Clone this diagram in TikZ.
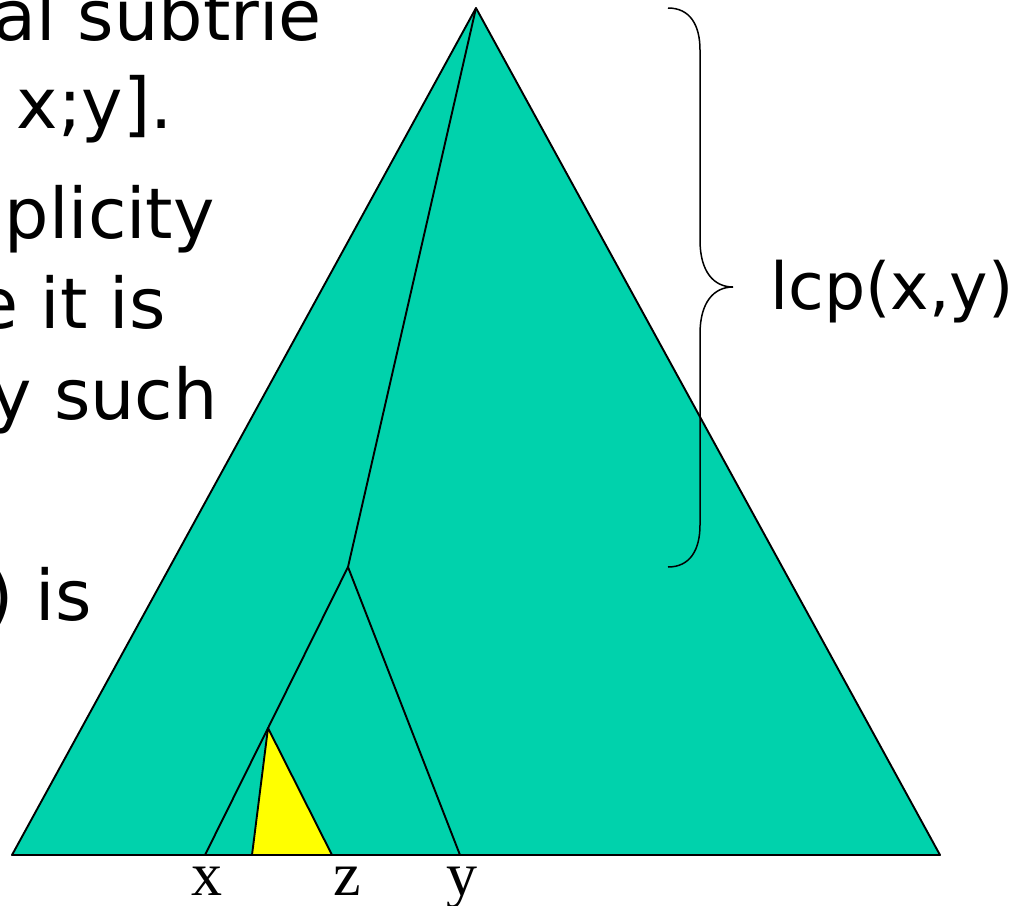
\documentclass[tikz,border=0pt]{standalone}
\usepackage{fontspec}
\setmainfont{DejaVu Sans}
\newfontfamily\labelfont{Liberation Serif}
\definecolor{trigreen}{RGB}{0,210,172}
\definecolor{triyellow}{RGB}{255,255,0}
\begin{document}
\begin{tikzpicture}[x=1pt,y=-1pt,
  edge/.style={draw=black,line width=1.9pt,line join=round},
  bracestyle/.style={draw=black,line width=1.5pt},
  slidetext/.style={inner sep=0pt,anchor=base east,font=\fontsize{70}{84}\selectfont},
  lcptext/.style={inner sep=0pt,anchor=base west,font=\fontsize{65}{78}\selectfont},
  leaflabel/.style={inner sep=0pt,anchor=base,font=\labelfont\fontsize{62}{74}\selectfont}]
\useasboundingbox (0,0) rectangle (1012,905);
\clip (0,0) rectangle (1012,905);
% vertices
\coordinate (apex) at (476,8);
\coordinate (bl) at (12,855);
\coordinate (br) at (940,855);
\coordinate (fork) at (348,567);
\coordinate (xleaf) at (205,855);
\coordinate (yleaf) at (460,855);
\coordinate (ztop) at (268,728);
\coordinate (zl) at (252,855);
\coordinate (zr) at (332,855);
% big triangle
\fill[trigreen] (apex) -- (br) -- (bl) -- cycle;
\draw[edge] (apex) -- (br) -- (bl) -- cycle;
% paths
\draw[edge] (apex) -- (fork) -- (xleaf);
\draw[edge] (fork) -- (yleaf);
% yellow subtrie
\fill[triyellow] (ztop) -- (zr) -- (zl) -- cycle;
\draw[edge] (ztop) -- (zr) -- (zl) -- cycle;
% brace
\coordinate (btop) at (668,8);
\coordinate (btip) at (733,287);
\coordinate (bbot) at (668,567);
\draw[bracestyle] (btop) .. controls (690,8) and (700,25) .. (700,50)
  -- (700,240) .. controls (700,272) and (714,287) .. (btip)
  .. controls (714,287) and (700,302) .. (700,334)
  -- (700,525) .. controls (700,550) and (690,567) .. (bbot);
\node[lcptext] (lcp) at (770,309) {lcp(x,y)};
% leaf labels
\node[leaflabel] (lx) at (207,895) {x};
\node[leaflabel] (lz) at (347,895) {z};
\node[leaflabel] (ly) at (462,895) {y};
% clipped slide text
\node[slidetext] (t1) at (322,40) {al subtrie};
\node[slidetext] (t2) at (173,128) {x;y].};
\node[slidetext] (t3) at (215,238) {plicity};
\node[slidetext] (t4) at (166,328) {e it is};
\node[slidetext] (t5) at (218,419) {y such};
\node[slidetext] (t6) at (92,620) {) is};
\end{tikzpicture}
\end{document}
